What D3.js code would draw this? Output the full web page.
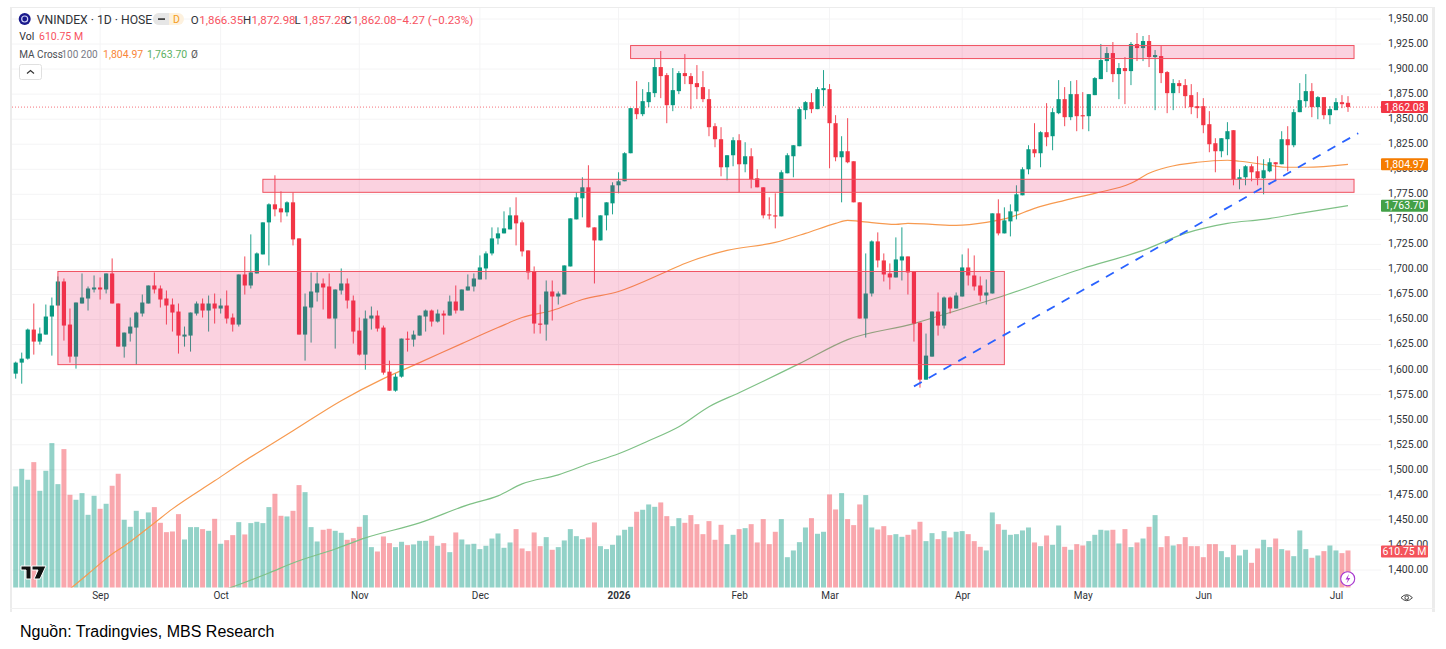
<!DOCTYPE html>
<html>
<head>
<meta charset="utf-8">
<title>VNINDEX</title>
<script src="https://cdn.jsdelivr.net/npm/d3@7"></script>
<style>
  html, body { margin: 0; padding: 0; background: #fff; overflow: hidden; }
  svg { display: block; }
  text { font-family: Roboto, "Noto Sans", sans-serif; }
</style>
</head>
<body>
<div id="chart"></div>
<script>
// gia doc tu anh, moi dong 10 phien
const opens = [
  1596, 1607, 1611, 1640, 1628, 1635, 1653, 1664, 1688, 1645,
  1613, 1666, 1671, 1680, 1682, 1680, 1696, 1666, 1623, 1636,
  1642, 1656, 1666, 1684, 1681, 1671, 1665, 1658, 1633, 1634,
  1656, 1666, 1659, 1666, 1661, 1664, 1652, 1645, 1695, 1684,
  1696, 1715, 1747, 1765, 1761, 1757, 1767, 1731, 1635, 1662,
  1677, 1686, 1683, 1651, 1679, 1686, 1669, 1639, 1615, 1651,
  1654, 1642, 1598, 1579, 1593, 1631, 1630, 1634, 1653, 1659,
  1648, 1656, 1654, 1668, 1659, 1679, 1683, 1690, 1701, 1716,
  1731, 1736, 1740, 1754, 1747, 1719, 1698, 1646, 1645, 1678,
  1673, 1675, 1703, 1750, 1771, 1782, 1742, 1729, 1754, 1766,
  1784, 1788, 1816, 1861, 1855, 1867, 1876, 1902, 1894, 1864,
  1878, 1896, 1893, 1886, 1882, 1870, 1843, 1830, 1802, 1814,
  1829, 1805, 1813, 1791, 1782, 1755, 1754, 1753, 1796, 1813,
  1823, 1859, 1867, 1860, 1879, 1880, 1846, 1812, 1818, 1808,
  1767, 1651, 1676, 1728, 1709, 1696, 1692, 1709, 1713, 1698,
  1647, 1590, 1613, 1658, 1644, 1672, 1661, 1673, 1702, 1694,
  1684, 1674, 1676, 1756, 1736, 1748, 1758, 1774, 1800, 1820,
  1816, 1837, 1833, 1856, 1870, 1852, 1875, 1854, 1853, 1874,
  1890, 1908, 1916, 1895, 1901, 1898, 1925, 1921, 1928, 1912,
  1913, 1897, 1876, 1886, 1884, 1874, 1863, 1863, 1845, 1826,
  1818, 1830, 1839, 1790, 1792, 1803, 1798, 1791, 1798, 1807,
  1805, 1830, 1824, 1857, 1868, 1878, 1862, 1872, 1854, 1859,
  1867, 1866.35
];
const closes = [
  1607, 1611, 1640, 1628, 1636, 1653, 1664, 1688, 1644, 1613,
  1667, 1672, 1681, 1682, 1680, 1696, 1666, 1623, 1637, 1643,
  1657, 1667, 1684, 1680, 1670, 1664, 1657, 1634, 1635, 1657,
  1666, 1659, 1666, 1661, 1664, 1651, 1645, 1695, 1684, 1697,
  1716, 1747, 1765, 1760, 1757, 1767, 1730, 1635, 1663, 1678,
  1686, 1682, 1651, 1680, 1686, 1669, 1638, 1615, 1651, 1654,
  1641, 1597, 1579, 1593, 1631, 1630, 1635, 1654, 1659, 1648,
  1656, 1654, 1668, 1659, 1680, 1683, 1691, 1702, 1716, 1731,
  1736, 1741, 1754, 1746, 1718, 1697, 1646, 1645, 1678, 1673,
  1676, 1704, 1751, 1772, 1782, 1742, 1729, 1754, 1767, 1784,
  1788, 1816, 1861, 1855, 1868, 1877, 1902, 1893, 1864, 1879,
  1896, 1893, 1885, 1882, 1870, 1842, 1830, 1802, 1814, 1829,
  1805, 1813, 1790, 1782, 1754, 1754, 1753, 1797, 1814, 1824,
  1860, 1867, 1860, 1880, 1881, 1846, 1812, 1818, 1807, 1767,
  1651, 1676, 1728, 1709, 1695, 1692, 1710, 1713, 1697, 1646,
  1590, 1614, 1658, 1644, 1672, 1661, 1674, 1702, 1694, 1683,
  1674, 1677, 1756, 1736, 1749, 1758, 1775, 1800, 1820, 1816,
  1837, 1832, 1857, 1870, 1852, 1875, 1853, 1853, 1875, 1891,
  1909, 1916, 1895, 1901, 1898, 1925, 1921, 1928, 1912, 1914,
  1896, 1876, 1886, 1883, 1873, 1862, 1861, 1844, 1825, 1818,
  1831, 1838, 1790, 1792, 1803, 1797, 1791, 1799, 1807, 1805,
  1830, 1824, 1857, 1869, 1878, 1862, 1872, 1854, 1860, 1867,
  1865, 1862.08
];
const highs = [
  1608, 1617, 1641, 1666, 1642, 1665, 1672, 1693, 1691, 1661,
  1667, 1696, 1683, 1694, 1692, 1696, 1711, 1666, 1637, 1652,
  1658, 1675, 1684, 1697, 1684, 1679, 1671, 1666, 1643, 1657,
  1668, 1671, 1674, 1676, 1671, 1679, 1656, 1695, 1713, 1735,
  1717, 1747, 1766, 1794, 1778, 1768, 1777, 1731, 1676, 1697,
  1697, 1691, 1696, 1680, 1701, 1691, 1674, 1652, 1659, 1663,
  1659, 1644, 1609, 1596, 1631, 1638, 1639, 1654, 1660, 1660,
  1660, 1659, 1674, 1684, 1680, 1695, 1696, 1714, 1718, 1742,
  1742, 1758, 1762, 1772, 1749, 1719, 1703, 1665, 1689, 1689,
  1678, 1704, 1751, 1777, 1792, 1804, 1742, 1754, 1767, 1787,
  1797, 1817, 1861, 1888, 1880, 1887, 1910, 1918, 1896, 1901,
  1898, 1915, 1896, 1904, 1898, 1880, 1846, 1842, 1814, 1832,
  1835, 1827, 1821, 1800, 1782, 1772, 1776, 1799, 1816, 1824,
  1862, 1868, 1876, 1882, 1899, 1885, 1854, 1833, 1851, 1808,
  1767, 1716, 1729, 1737, 1716, 1706, 1732, 1742, 1713, 1698,
  1647, 1636, 1658, 1677, 1673, 1673, 1677, 1715, 1721, 1714,
  1693, 1690, 1756, 1770, 1762, 1765, 1784, 1802, 1824, 1846,
  1838, 1866, 1861, 1889, 1882, 1888, 1889, 1877, 1875, 1892,
  1925, 1922, 1927, 1906, 1912, 1927, 1936, 1933, 1934, 1919,
  1923, 1898, 1890, 1889, 1890, 1885, 1877, 1871, 1858, 1831,
  1831, 1847, 1839, 1800, 1804, 1805, 1813, 1810, 1811, 1807,
  1838, 1843, 1860, 1886, 1895, 1886, 1873, 1872, 1863, 1871,
  1874, 1872.98
];
const lows = [
  1591, 1586, 1610, 1615, 1625, 1635, 1614, 1664, 1629, 1607,
  1601, 1666, 1659, 1677, 1670, 1676, 1666, 1623, 1612, 1628,
  1605, 1653, 1666, 1676, 1662, 1645, 1638, 1616, 1623, 1618,
  1654, 1652, 1638, 1646, 1656, 1646, 1638, 1643, 1675, 1681,
  1696, 1715, 1704, 1753, 1747, 1753, 1724, 1635, 1609, 1627,
  1668, 1660, 1651, 1621, 1675, 1661, 1626, 1614, 1600, 1640,
  1638, 1595, 1579, 1578, 1592, 1618, 1623, 1634, 1638, 1643,
  1647, 1635, 1654, 1656, 1659, 1679, 1678, 1690, 1690, 1714,
  1725, 1736, 1740, 1724, 1713, 1690, 1636, 1636, 1629, 1649,
  1665, 1675, 1703, 1750, 1752, 1742, 1686, 1729, 1739, 1755,
  1776, 1788, 1816, 1850, 1853, 1862, 1872, 1871, 1846, 1858,
  1875, 1885, 1860, 1870, 1867, 1833, 1822, 1793, 1789, 1803,
  1777, 1797, 1781, 1782, 1751, 1750, 1741, 1753, 1796, 1792,
  1823, 1850, 1856, 1860, 1863, 1801, 1808, 1767, 1806, 1767,
  1651, 1632, 1673, 1702, 1688, 1680, 1692, 1689, 1675, 1628,
  1582, 1590, 1613, 1634, 1641, 1656, 1661, 1673, 1684, 1679,
  1668, 1665, 1676, 1734, 1736, 1733, 1750, 1774, 1795, 1812,
  1802, 1823, 1819, 1855, 1843, 1849, 1838, 1840, 1838, 1874,
  1890, 1897, 1887, 1870, 1865, 1884, 1908, 1908, 1902, 1859,
  1886, 1856, 1859, 1876, 1861, 1855, 1851, 1836, 1817, 1797,
  1812, 1814, 1784, 1780, 1784, 1788, 1784, 1775, 1797, 1788,
  1805, 1798, 1822, 1857, 1862, 1852, 1850, 1850, 1845, 1859,
  1861, 1857.28
];
// khoi luong, trieu cp
const volumes = [
  1667, 1958, 1777, 2068, 1595, 1925, 2382, 1705, 2283, 1529,
  1447, 1557, 1199, 1513, 1298, 1381, 1678, 1876, 1117, 1001,
  1265, 1128, 1238, 1326, 1067, 913, 924, 1210, 792, 996,
  996, 963, 935, 1133, 721, 781, 864, 1078, 875, 1062,
  1084, 1062, 1326, 1546, 1183, 1172, 1265, 1689, 1573, 996,
  759, 952, 968, 935, 902, 787, 814, 1001, 1194, 666,
  594, 842, 732, 666, 754, 699, 710, 770, 770, 853,
  688, 732, 583, 908, 792, 710, 721, 633, 688, 808,
  891, 655, 743, 963, 644, 600, 908, 682, 831, 622,
  666, 776, 963, 847, 798, 825, 1073, 682, 633, 704,
  858, 952, 1001, 1249, 1282, 1370, 1331, 1403, 1177, 1012,
  1144, 1067, 1194, 1045, 880, 1095, 787, 1034, 715, 869,
  963, 979, 1045, 743, 1128, 715, 919, 1128, 500, 611,
  748, 990, 1144, 886, 919, 1535, 1287, 1557, 1128, 1029,
  1370, 1524, 990, 957, 1012, 864, 880, 836, 869, 957,
  1084, 765, 897, 798, 930, 825, 919, 930, 880, 765,
  671, 611, 1238, 1045, 952, 869, 880, 941, 990, 743,
  682, 858, 704, 1023, 671, 622, 715, 693, 765, 869,
  952, 941, 952, 726, 963, 666, 743, 808, 1001, 1194,
  666, 847, 693, 715, 831, 682, 682, 500, 715, 715,
  600, 500, 704, 528, 622, 407, 644, 787, 666, 808,
  633, 611, 517, 941, 633, 490, 528, 600, 693, 611,
  567, 610.75
];

const ma100Bars = [9, 12, 16, 18, 23, 26, 33, 38, 42, 46, 54, 61, 67, 74, 80, 84, 89, 94, 100, 108, 111, 118, 126, 131, 136, 138, 140, 146, 148, 152, 156, 161, 165, 169, 174, 179, 185, 188, 191, 196, 201, 203, 208, 211, 214, 221];
const ma100Vals = [1381, 1396, 1416, 1424, 1447, 1461, 1489, 1509, 1524, 1539, 1569, 1591, 1607, 1626, 1642, 1652, 1659, 1670, 1678, 1698, 1706, 1719, 1727, 1736, 1746, 1749, 1748, 1745, 1746, 1745, 1744, 1747, 1752, 1761, 1769, 1776, 1786, 1796, 1802, 1807, 1809, 1808, 1804, 1802, 1802, 1804.97];
const ma200Bars = [35, 42, 46, 53, 58, 67, 75, 80, 84, 90, 95, 100, 105, 110, 115, 120, 130, 138, 149, 155, 164, 177, 187, 194, 201, 207, 214, 221];
const ma200Vals = [1381, 1397, 1407, 1421, 1432, 1447, 1465, 1474, 1486, 1495, 1506, 1516, 1529, 1543, 1563, 1577, 1606, 1630, 1646, 1657, 1674, 1701, 1719, 1736, 1746, 1750, 1757, 1763.70];

// vung khang cu / ho tro: tu phien, den phien, gia tren, gia duoi
const zoneStart = [7, 41, 102];
const zoneEnd = [164, 222, 222];
const zoneTop = [1698, 1790, 1923.5];
const zoneBottom = [1605, 1777, 1910.5];

const trendBars = [149, 222.7];
const trendPrices = [1583.3, 1836];

const priceTicks = d3.range(1400, 1951, 25);
const monthBars = [14, 34, 57, 77, 100, 120, 135, 157, 177, 197, 219];
const monthLabels = ['Sep', 'Oct', 'Nov', 'Dec', '2026', 'Feb', 'Mar', 'Apr', 'May', 'Jun', 'Jul'];

const lastClose = 1862.08;
const lastMa100 = 1804.97;
const lastMa200 = 1763.70;
const lastVolume = 610.75;

const green = '#089981';
const red = '#f23645';
const paneBottom = 587.5;

const svg = d3.select('#chart').append('svg')
  .attr('width', 1446)
  .attr('height', 649);

const x = d3.scaleLinear().domain([0, 221]).range([15.7, 1348]);
const y = d3.scaleLinear().domain([1400, 1950]).range([570, 19]);
const v = d3.scaleLinear().domain([0, 2400]).range([paneBottom, paneBottom - 145.5]);

const fmt = d3.format(',.2f');
const isUp = i => closes[i] >= opens[i];
const bars = d3.range(opens.length);

svg.append('defs').append('clipPath').attr('id', 'pane')
  .append('rect').attr('x', 12).attr('y', 8).attr('width', 1369).attr('height', paneBottom - 8);

// khung
const frame = svg.append('g').attr('class', 'frame');
frame.append('rect').attr('x', 10).attr('y', 7).attr('width', 2).attr('height', 605).attr('fill', '#ececec');
frame.append('rect').attr('x', 1432).attr('y', 7).attr('width', 3).attr('height', 605).attr('fill', '#ececec');
frame.append('line').attr('x1', 10).attr('x2', 1435).attr('y1', 7.5).attr('y2', 7.5).attr('stroke', '#ececec');
frame.append('line').attr('x1', 10).attr('x2', 1435).attr('y1', 608.5).attr('y2', 608.5).attr('stroke', '#f0f0f0');

// luoi
const grid = svg.append('g').attr('class', 'grid').attr('stroke', '#f4f4f5');
grid.selectAll('line.h').data(priceTicks).enter().append('line')
  .attr('class', 'h')
  .attr('x1', 12).attr('x2', 1381)
  .attr('y1', d => y(d)).attr('y2', d => y(d));
grid.selectAll('line.m').data(monthBars).enter().append('line')
  .attr('class', 'm')
  .attr('x1', d => x(d)).attr('x2', d => x(d))
  .attr('y1', 8).attr('y2', paneBottom);

// truc
const yAxis = d3.axisRight(y).tickValues(priceTicks).tickSize(0).tickPadding(0).tickFormat(fmt);
const yG = svg.append('g').attr('transform', 'translate(1388,-1)').call(yAxis);
yG.select('.domain').remove();
yG.selectAll('text').attr('font-size', 10.5).attr('fill', '#2f3237');

const xAxis = d3.axisBottom(x).tickValues(monthBars).tickSize(0).tickPadding(0)
  .tickFormat((d, i) => monthLabels[i]);
const xG = svg.append('g').attr('transform', 'translate(0,591.5)').call(xAxis);
xG.select('.domain').remove();
xG.selectAll('text')
  .attr('font-size', 10)
  .attr('fill', '#2f3237')
  .attr('font-weight', d => monthLabels[monthBars.indexOf(d)] === '2026' ? 700 : 400);

// khoi luong
svg.append('g').attr('class', 'volume').selectAll('rect').data(bars).enter().append('rect')
  .attr('x', i => x(i) - 2.5)
  .attr('width', 5)
  .attr('y', i => v(volumes[i]))
  .attr('height', i => paneBottom - v(volumes[i]))
  .attr('fill', i => isUp(i) ? green : red)
  .attr('fill-opacity', 0.44);

// duong trung binh
const maLine = d3.line().curve(d3.curveMonotoneX).x(d => x(d[0])).y(d => y(d[1]));
const maG = svg.append('g').attr('clip-path', 'url(#pane)').attr('fill', 'none').attr('stroke-width', 1.2);
maG.append('path').attr('d', maLine(d3.zip(ma100Bars, ma100Vals))).attr('stroke', '#f79a50');
maG.append('path').attr('d', maLine(d3.zip(ma200Bars, ma200Vals))).attr('stroke', '#7fc186');

// duong gia dong cua
svg.append('line')
  .attr('x1', 12).attr('x2', 1381)
  .attr('y1', y(lastClose)).attr('y2', y(lastClose))
  .attr('stroke', red).attr('stroke-opacity', 0.7).attr('stroke-dasharray', '1 2');

// nen
const candles = svg.append('g').attr('class', 'candles');
candles.selectAll('line').data(bars).enter().append('line')
  .attr('x1', i => x(i)).attr('x2', i => x(i))
  .attr('y1', i => y(highs[i])).attr('y2', i => y(lows[i]))
  .attr('stroke', i => isUp(i) ? green : red)
  .attr('stroke-width', 0.9);
candles.selectAll('rect').data(bars).enter().append('rect')
  .attr('x', i => x(i) - 2.1)
  .attr('width', 4.2)
  .attr('y', i => y(Math.max(opens[i], closes[i])))
  .attr('height', i => Math.max(1.2, Math.abs(y(opens[i]) - y(closes[i]))))
  .attr('fill', i => isUp(i) ? green : red);

// vung hop
svg.append('g').attr('class', 'zones').selectAll('rect').data(zoneStart).enter().append('rect')
  .attr('x', d => x(d))
  .attr('width', (d, i) => x(zoneEnd[i]) - x(d))
  .attr('y', (d, i) => y(zoneTop[i]))
  .attr('height', (d, i) => y(zoneBottom[i]) - y(zoneTop[i]))
  .attr('fill', '#e91e63').attr('fill-opacity', 0.2)
  .attr('stroke', '#f0505f').attr('stroke-width', 1);

// xu huong
svg.append('line')
  .attr('x1', x(trendBars[0])).attr('x2', x(trendBars[1]))
  .attr('y1', y(trendPrices[0])).attr('y2', y(trendPrices[1]))
  .attr('stroke', '#2962ff').attr('stroke-width', 1.8).attr('stroke-dasharray', '9 8');

// nhan gia ben phai
function tag(cy, color, label) {
  svg.append('rect').attr('x', 1381).attr('y', cy - 6).attr('width', 47).attr('height', 12).attr('rx', 1).attr('fill', color);
  svg.append('text').attr('x', 1404.5).attr('y', cy).attr('dy', '0.35em').attr('text-anchor', 'middle')
    .attr('font-size', 10.5).attr('fill', '#fff').text(label);
}
tag(y(lastClose), '#f23645', fmt(lastClose));
tag(y(lastMa100), '#f57c00', fmt(lastMa100));
tag(y(lastMa200), '#43a047', fmt(lastMa200));
tag(v(lastVolume) + 1, '#f4535a', lastVolume + ' M');

// chu giai
const legend = svg.append('g').attr('font-size', 11);
function label(px, py, str, color, size) {
  legend.append('text').attr('x', px).attr('y', py).attr('dy', '0.35em')
    .attr('fill', color).attr('font-size', size || 11).text(str);
}
legend.append('circle').attr('cx', 24.7).attr('cy', 19).attr('r', 6).attr('fill', '#1a1a8c');
legend.append('circle').attr('cx', 24.7).attr('cy', 19).attr('r', 3).attr('fill', 'none').attr('stroke', '#cfd3f5').attr('stroke-width', 1.2);
label(36.7, 19.5, 'VNINDEX · 1D · HOSE', '#2f3237', 12.2);
legend.append('rect').attr('x', 153).attr('y', 13).attr('width', 31).attr('height', 12).attr('rx', 6).attr('fill', '#fdf1de');
legend.append('path').attr('d', 'M159 13h10v12h-10a6 6 0 0 1 0-12z').attr('fill', '#e6e6e6');
legend.append('rect').attr('x', 158).attr('y', 18.2).attr('width', 7).attr('height', 1.8).attr('fill', '#444');
label(173, 19, 'D', '#f59e1b', 10.5);
const ohlc = [['O', 190.7, '1,866.35'], ['H', 243, '1,872.98'], ['L', 294.5, '1,857.28'], ['C', 344, '1,862.08']];
ohlc.forEach(d => {
  label(d[1], 19.5, d[0], '#2f3237', 11.5);
  label(d[1] + 8.5, 19.5, d[2], '#f7525f', 11.5);
});
label(396, 19.5, '−4.27 (−0.23%)', '#f7525f', 11.5);
label(19.3, 36.7, 'Vol', '#2f3237', 10.5);
label(39, 36.7, '610.75 M', '#f7525f', 10.5);
label(19.3, 54, 'MA Cross', '#4a4d52', 10);
label(61.5, 54, '100 200', '#787b86', 10);
label(103, 54, fmt(lastMa100), '#f9863a', 10.5);
label(147, 54, fmt(lastMa200), '#5cb062', 10.5);
label(191, 54, 'Ø', '#555', 10);
legend.append('rect').attr('x', 19.5).attr('y', 64.5).attr('width', 22).attr('height', 15).attr('rx', 2)
  .attr('fill', '#fff').attr('stroke', '#e0e0e0');
legend.append('path').attr('d', 'M27 73.5l3.5-3 3.5 3').attr('fill', 'none').attr('stroke', '#333').attr('stroke-width', 1.2);

// logo tradingview
const logo = svg.append('g');
logo.append('path').attr('d', 'M21 566h10v13h-5v-9h-5z M32 566h14l-6 13h-6l4-9h-6z')
  .attr('fill', '#111').attr('stroke', '#fff').attr('stroke-width', 1);
logo.append('circle').attr('cx', 33).attr('cy', 569).attr('r', 0);

// bieu tuong tia set va banh rang
svg.append('circle').attr('cx', 1347.7).attr('cy', 578.7).attr('r', 7).attr('fill', '#fff').attr('stroke', '#a838d0').attr('stroke-width', 1.1);
svg.append('path').attr('d', 'M1349 574l-3.5 5.5h2.5l-1.5 4 3.8-5.6h-2.5z').attr('fill', '#a838d0');
svg.append('path').attr('d', 'M1401 597.7q5.7-6 11.4 0q-5.7 6-11.4 0z').attr('fill', 'none').attr('stroke', '#444');
svg.append('circle').attr('cx', 1406.7).attr('cy', 597.7).attr('r', 1.8).attr('fill', 'none').attr('stroke', '#444');

// nguon
svg.append('text').attr('x', 20).attr('y', 637)
  .style('font-family', '"Liberation Sans", Arial, sans-serif')
  .attr('font-size', 16).attr('fill', '#000')
  .text('Nguồn: Tradingvies, MBS Research');
</script>
</body>
</html>
